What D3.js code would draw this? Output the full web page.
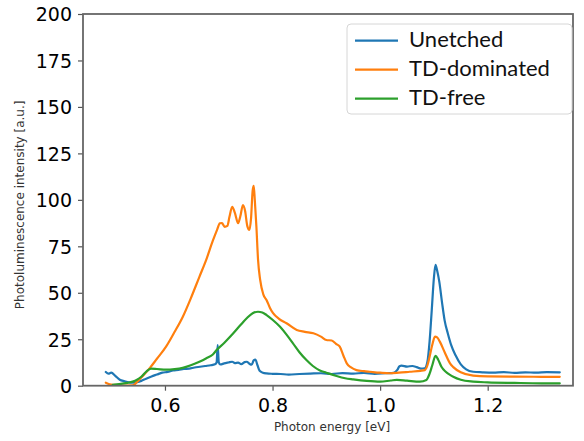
<!DOCTYPE html>
<html><head><meta charset="utf-8">
<script src="https://cdn.jsdelivr.net/npm/d3@7"></script>
<style>body{margin:0;background:#fff}svg{display:block}</style>
</head><body>
<script>
const seriesNames = ["Unetched", "TD-dominated", "TD-free"];
const seriesColors = ["#1f77b4", "#ff7f0e", "#2ca02c"];

const unetchedE = [0.490,0.495,0.500,0.508,0.516,0.525,0.533,0.540,0.548,0.556,0.565,0.575,0.585,0.595,0.605,0.615,0.625,0.635,0.645,0.655,0.665,0.675,0.685,0.693,0.696,0.698,0.700,0.703,0.710,0.718,0.725,0.730,0.736,0.742,0.748,0.752,0.757,0.761,0.765,0.768,0.772,0.776,0.782,0.789,0.800,0.815,0.830,0.850,0.870,0.890,0.910,0.930,0.950,0.970,0.990,1.010,1.025,1.032,1.036,1.040,1.050,1.060,1.068,1.076,1.083,1.088,1.092,1.096,1.100,1.103,1.106,1.110,1.115,1.120,1.126,1.132,1.140,1.150,1.160,1.173,1.190,1.210,1.230,1.250,1.270,1.290,1.310,1.334];
const unetchedI = [7.4,6.5,7.0,5.2,3.2,2.4,1.8,1.6,1.9,2.6,3.8,5.0,6.0,7.0,7.4,8.2,8.5,9.0,9.2,9.8,10.2,10.6,11.0,11.5,12.5,21.9,12.6,11.4,12.0,12.5,12.9,12.2,12.4,11.6,12.7,12.9,11.8,11.3,13.6,14.0,11.0,8.0,7.0,6.6,6.4,6.3,6.0,6.3,6.5,6.7,6.3,6.8,6.5,6.9,6.4,6.7,6.9,8.5,10.5,10.8,10.3,10.6,10.0,9.2,9.4,13.0,24.0,40.7,58.0,65.0,62.0,56.0,45.0,35.0,28.0,22.0,16.5,11.5,8.8,7.5,7.2,7.0,7.3,6.9,7.2,7.0,7.3,7.2];

const tdDomE = [0.490,0.497,0.506,0.515,0.525,0.540,0.550,0.560,0.572,0.585,0.602,0.618,0.633,0.648,0.664,0.677,0.689,0.697,0.702,0.706,0.711,0.716,0.720,0.725,0.730,0.736,0.740,0.745,0.749,0.753,0.757,0.760,0.763,0.765,0.767,0.770,0.773,0.777,0.783,0.789,0.795,0.801,0.812,0.826,0.845,0.860,0.876,0.890,0.900,0.910,0.918,0.925,0.932,0.938,0.946,0.956,0.970,0.981,1.000,1.018,1.035,1.055,1.075,1.083,1.088,1.092,1.097,1.102,1.106,1.111,1.120,1.130,1.136,1.150,1.173,1.200,1.250,1.300,1.334];
const tdDomI = [1.6,0.8,0.4,0.2,0.1,0.2,2.6,5.6,9.6,14.5,21.0,29.0,37.0,47.0,58.6,68.0,78.0,84.0,87.4,87.5,85.5,86.0,91.0,96.3,93.0,87.4,91.0,97.2,94.0,86.0,83.8,90.0,105.0,107.5,100.0,85.5,68.0,56.9,49.0,46.0,42.0,39.0,36.0,33.6,30.0,29.0,28.2,26.4,24.6,24.3,22.5,21.0,16.0,12.0,9.8,8.4,7.8,7.5,7.0,6.7,7.0,7.5,8.0,8.4,11.0,15.6,22.0,26.4,26.0,23.7,18.0,12.0,10.0,7.2,5.4,5.0,4.9,4.8,4.8];

const tdFreeE = [0.503,0.515,0.530,0.540,0.548,0.556,0.565,0.574,0.585,0.602,0.618,0.633,0.648,0.664,0.677,0.689,0.696,0.710,0.727,0.740,0.752,0.763,0.773,0.781,0.789,0.800,0.814,0.826,0.838,0.850,0.863,0.875,0.888,0.900,0.919,0.935,0.950,0.975,1.000,1.020,1.031,1.050,1.074,1.086,1.092,1.097,1.103,1.108,1.114,1.122,1.130,1.136,1.150,1.173,1.200,1.250,1.300,1.334];
const tdFreeI = [0.4,0.8,1.5,2.2,3.2,4.8,7.5,9.2,9.0,8.6,8.9,9.6,11.0,12.9,14.8,16.8,19.2,23.0,28.2,32.5,36.3,39.0,39.8,39.4,38.0,35.5,31.7,27.5,22.8,18.0,13.8,10.6,8.2,7.0,5.2,4.0,3.4,2.6,2.2,2.8,3.1,2.7,2.2,3.1,6.5,11.0,16.0,14.0,10.2,7.5,5.8,4.8,3.2,2.2,1.8,1.5,1.3,1.3];

const xTicks = [0.6, 0.8, 1.0, 1.2];
const yTicks = [0, 25, 50, 75, 100, 125, 150, 175, 200];
const xLabel = "Photon energy [eV]";
const yLabel = "Photoluminescence intensity [a.u.]";

const W = 584, H = 441;
const L = 83, R = 573, T = 14, B = 385.7;
const svg = d3.select("body").append("svg").attr("width", W).attr("height", H);

const x = d3.scaleLinear().domain([0.4476, 1.3586]).range([L, R]);
const y = d3.scaleLinear().domain([0, 200]).range([B, T]);

svg.append("clipPath").attr("id", "clip").append("rect")
  .attr("x", L).attr("y", T).attr("width", R - L).attr("height", B - T);

const series = [
  {name: seriesNames[0], color: seriesColors[0], pts: unetchedE.map((e, i) => [e, unetchedI[i]])},
  {name: seriesNames[1], color: seriesColors[1], pts: tdDomE.map((e, i) => [e, tdDomI[i]])},
  {name: seriesNames[2], color: seriesColors[2], pts: tdFreeE.map((e, i) => [e, tdFreeI[i]])}
];

const line = d3.line().x(d => x(d[0])).y(d => y(d[1])).curve(d3.curveMonotoneX);
const g = svg.append("g").attr("clip-path", "url(#clip)");
series.forEach(s => {
  g.append("path").datum(s.pts).attr("d", line)
    .attr("fill", "none").attr("stroke", s.color).attr("stroke-width", 2.2)
    .attr("stroke-linejoin", "round").attr("stroke-linecap", "round");
});

const tickFont = "DejaVu Sans";
const xAxis = svg.append("g").attr("transform", `translate(0,${B})`)
  .call(d3.axisBottom(x).tickValues(xTicks).tickFormat(d3.format(".1f")).tickSize(5).tickPadding(8));
const yAxis = svg.append("g").attr("transform", `translate(${L},0)`)
  .call(d3.axisLeft(y).tickValues(yTicks).tickFormat(d3.format("d")).tickSize(5).tickPadding(6));
[xAxis, yAxis].forEach(a => {
  a.select(".domain").remove();
  a.selectAll(".tick line").attr("stroke", "#555").attr("stroke-width", 1.2);
  a.selectAll(".tick text").attr("font-family", tickFont).attr("font-size", 19).attr("fill", "#000");
});
yAxis.selectAll(".tick text").attr("dy", "0.36em");

svg.append("rect").attr("x", L).attr("y", T).attr("width", R - L).attr("height", B - T)
  .attr("fill", "none").attr("stroke", "#666").attr("stroke-width", 1.8);

svg.append("text").attr("x", (L + R) / 2 + 4).attr("y", 431).attr("text-anchor", "middle")
  .attr("font-family", "DejaVu Sans").attr("font-size", 12).attr("fill", "#333").text(xLabel);
svg.append("text").attr("transform", `translate(24,${(T + B) / 2 + 5}) rotate(-90)`)
  .attr("text-anchor", "middle").attr("font-family", "DejaVu Sans").attr("font-size", 12)
  .attr("fill", "#333").text(yLabel);

// legend
const lg = svg.append("g");
lg.append("rect").attr("x", 347).attr("y", 24).attr("width", 225).attr("height", 90)
  .attr("rx", 4).attr("fill", "#fff").attr("fill-opacity", 0.85)
  .attr("stroke", "#d6d6d6").attr("stroke-width", 1);
series.forEach((s, i) => {
  const yy = 40.7 + i * 29;
  lg.append("line").attr("x1", 355).attr("x2", 398).attr("y1", yy).attr("y2", yy)
    .attr("stroke", s.color).attr("stroke-width", 2.2);
  lg.append("text").attr("x", 409).attr("y", yy + 6.5).attr("font-family", "Lato")
    .attr("font-size", 22).attr("fill", "#111").text(s.name);
});
</script>
</body></html>
